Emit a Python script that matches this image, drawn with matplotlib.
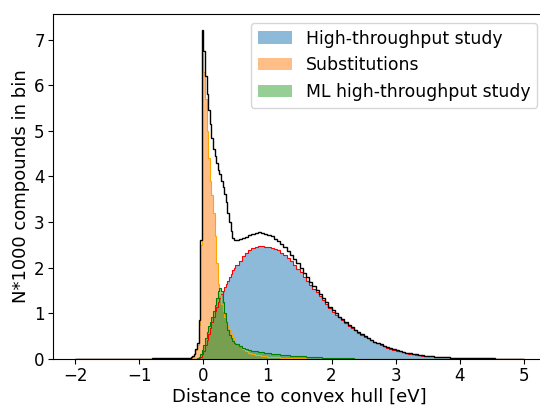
import matplotlib
matplotlib.use("Agg")
import matplotlib.pyplot as plt
import numpy as np

# bin edges: coarse tail, fine around the peak, medium for the bulk
edges = np.concatenate([
    np.linspace(-2.0, -0.3, 18),
    np.linspace(-0.3, 0.5, 33)[1:],
    np.linspace(0.5, 5.0, 91)[1:],
])

# values (N*1000 compounds per bin)
ht_tail = [0, 0, 0, 0, 0, 0, 0, 0, 0, 0, 0, 0, 0, 0, 0, 0, 0]
ht_fine = [0, 0, 0, 0, 0.005, 0.005, 0.01, 0.01, 0.02, 0.03, 0.05, 0.1,
           0.18, 0.3, 0.42, 0.55, 0.67, 0.8, 0.92, 1.05, 1.15, 1.25, 1.33, 1.42,
           1.5, 1.58, 1.65, 1.72, 1.8, 1.87, 1.94, 2.0]
ht_bulk = [2.05, 2.15, 2.25, 2.33, 2.39, 2.43, 2.46, 2.47, 2.48, 2.46,
           2.45, 2.43, 2.41, 2.38, 2.33, 2.28, 2.21, 2.14, 2.06, 1.98,
           1.9, 1.8, 1.71, 1.62, 1.54, 1.46, 1.37, 1.29, 1.2, 1.12,
           1.04, 0.97, 0.91, 0.85, 0.79, 0.73, 0.68, 0.63, 0.58, 0.53,
           0.49, 0.45, 0.41, 0.37, 0.34, 0.31, 0.28, 0.25, 0.23, 0.2,
           0.18, 0.165, 0.15, 0.135, 0.12, 0.11, 0.095, 0.085, 0.076, 0.068,
           0.06, 0.055, 0.05, 0.045, 0.04, 0.037, 0.034, 0.031, 0.028, 0.025,
           0.023, 0.021, 0.019, 0.017, 0.016, 0.015, 0.014, 0.013, 0.012, 0.011,
           0.01, 0.009, 0.009, 0.008, 0.008, 0.007, 0.007, 0.006, 0.006, 0.005]

sub_tail = [0.005, 0.005, 0.005, 0.005, 0.005, 0.005, 0.005, 0.005, 0.005,
            0.005, 0.005, 0.005, 0.008, 0.008, 0.01, 0.01, 0.01]
sub_fine = [0.01, 0.01, 0.02, 0.02, 0.03, 0.05, 0.1, 0.2, 0.3, 0.75, 2.5, 6.7,
            6.3, 5.7, 5.0, 4.4, 3.9, 3.6, 3.2, 2.7, 2.1, 1.65, 1.4, 1.2,
            1.05, 0.92, 0.82, 0.72, 0.63, 0.55, 0.48, 0.43]
sub_bulk = [0.36, 0.28, 0.22, 0.17, 0.13, 0.11, 0.09, 0.08, 0.07, 0.06,
            0.05, 0.045, 0.04, 0.035, 0.03, 0.027, 0.024, 0.021, 0.018, 0.016,
            0.014, 0.012, 0.01, 0.009, 0.008, 0.007, 0.006, 0.005, 0.005, 0.004,
            0.004, 0.003, 0.003, 0.002, 0.002, 0.001, 0.001, 0.001, 0, 0,
            0, 0, 0, 0, 0, 0, 0, 0, 0, 0,
            0, 0, 0, 0, 0, 0, 0, 0, 0, 0,
            0, 0, 0, 0, 0, 0, 0, 0, 0, 0,
            0, 0, 0, 0, 0, 0, 0, 0, 0, 0,
            0, 0, 0, 0, 0, 0, 0, 0, 0, 0]

ml_tail = [0, 0, 0, 0, 0, 0, 0, 0, 0, 0, 0, 0, 0, 0, 0, 0, 0]
ml_fine = [0, 0, 0, 0, 0, 0, 0, 0, 0.02, 0.05, 0.1, 0.2,
           0.3, 0.45, 0.6, 0.72, 0.82, 0.93, 1.05, 1.18, 1.33, 1.48, 1.55, 1.48,
           1.25, 1.0, 0.8, 0.63, 0.52, 0.45, 0.4, 0.36]
ml_bulk = [0.32, 0.28, 0.25, 0.22, 0.2, 0.18, 0.17, 0.16, 0.15, 0.14,
           0.13, 0.12, 0.11, 0.1, 0.095, 0.09, 0.08, 0.075, 0.07, 0.065,
           0.06, 0.055, 0.05, 0.045, 0.04, 0.037, 0.034, 0.031, 0.028, 0.025,
           0.022, 0.02, 0.018, 0.016, 0.014, 0.012, 0.011, 0.01, 0.009, 0.008,
           0.007, 0.006, 0.005, 0.005, 0.004, 0.004, 0.003, 0.003, 0.002, 0.002,
           0, 0, 0, 0, 0, 0, 0, 0, 0, 0,
           0, 0, 0, 0, 0, 0, 0, 0, 0, 0,
           0, 0, 0, 0, 0, 0, 0, 0, 0, 0,
           0, 0, 0, 0, 0, 0, 0, 0, 0, 0]

total_tail = [0.01, 0.01, 0.01, 0.01, 0.01, 0.01, 0.01, 0.01, 0.01,
              0.01, 0.01, 0.01, 0.012, 0.012, 0.015, 0.015, 0.018]
total_fine = [0.02, 0.02, 0.03, 0.03, 0.04, 0.06, 0.11, 0.21, 0.35, 0.85, 2.6, 7.2,
              6.75, 6.2, 5.8, 5.45, 5.15, 4.85, 4.6, 4.45, 4.3, 4.15, 4.05, 3.9,
              3.78, 3.62, 3.45, 3.2, 3.0, 2.8, 2.65, 2.6]
total_bulk = [2.6, 2.62, 2.65, 2.68, 2.71, 2.74, 2.77, 2.78, 2.77, 2.75,
              2.72, 2.69, 2.64, 2.58, 2.52, 2.45, 2.37, 2.28, 2.19, 2.1,
              2.0, 1.89, 1.79, 1.69, 1.6, 1.51, 1.42, 1.33, 1.24, 1.15,
              1.07, 1.0, 0.93, 0.87, 0.81, 0.75, 0.7, 0.64, 0.59, 0.54,
              0.5, 0.46, 0.42, 0.38, 0.35, 0.32, 0.29, 0.26, 0.235, 0.21,
              0.19, 0.17, 0.155, 0.14, 0.125, 0.112, 0.1, 0.089, 0.079, 0.07,
              0.063, 0.057, 0.052, 0.047, 0.042, 0.038, 0.035, 0.032, 0.029, 0.026,
              0.024, 0.022, 0.02, 0.018, 0.017, 0.016, 0.015, 0.014, 0.013, 0.012,
              0.011, 0.01, 0.01, 0.009, 0.009, 0.008, 0.008, 0.007, 0.007, 0.006]

ht = np.array(ht_tail + ht_fine + ht_bulk)
sub = np.array(sub_tail + sub_fine + sub_bulk)
ml = np.array(ml_tail + ml_fine + ml_bulk)
total = np.array(total_tail + total_fine + total_bulk)

fig = plt.figure(figsize=(5.4, 4.07), dpi=100)
ax = fig.add_axes([53 / 540, 48 / 407, 493 / 540, 345 / 407])

ax.stairs(ht, edges, fill=True, color='tab:blue', alpha=0.5, label='High-throughput study')
ax.stairs(sub, edges, fill=True, color='tab:orange', alpha=0.5, label='Substitutions')
ax.stairs(ml, edges, fill=True, color='tab:green', alpha=0.5, label='ML high-throughput study')

ax.stairs(ht, edges, color='red', lw=0.8, baseline=None)
ax.stairs(sub, edges, color='orange', lw=0.8, baseline=None)
ax.stairs(ml, edges, color='green', lw=0.8, baseline=None)
ax.stairs(total, edges, color='black', lw=1.0, baseline=None)

ax.set_xlim(-2.35, 5.35)
ax.set_ylim(0, 7.56)
ax.set_xticks([-2, -1, 0, 1, 2, 3, 4, 5])
ax.set_yticks([0, 1, 2, 3, 4, 5, 6, 7])
ax.tick_params(labelsize=12, pad=2.5)
ax.set_xlabel('Distance to convex hull [eV]', fontsize=13, labelpad=1.5)
ax.set_ylabel('N*1000 compounds in bin', fontsize=13, labelpad=3)
ax.legend(loc='upper right', fontsize=12.4, handlelength=2.0)

fig.savefig('out.png', dpi=100)
